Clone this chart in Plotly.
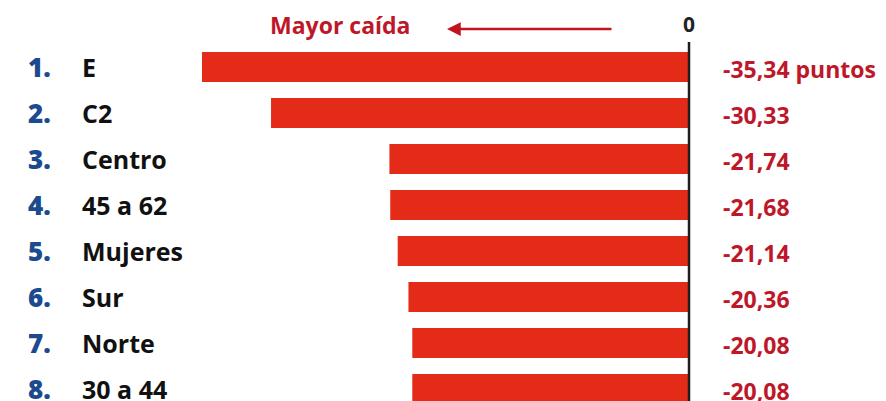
import plotly.graph_objects as go

ranks = ["1.", "2.", "3.", "4.", "5.", "6.", "7.", "8."]
categories = ["E", "C2", "Centro", "45 a 62", "Mujeres", "Sur", "Norte", "30 a 44"]
values = [-35.34, -30.33, -21.74, -21.68, -21.14, -20.36, -20.08, -20.08]
value_labels = ["-35,34 puntos", "-30,33", "-21,74", "-21,68", "-21,14", "-20,36", "-20,08", "-20,08"]

W, H = 886, 401
BAR = "#E32B17"
RED_TXT = "#BE1729"
BLUE = "#1B4A8E"
FONT = "Open Sans"

pos = list(range(len(categories)))

fig = go.Figure()
fig.add_trace(go.Bar(
    x=values, y=pos, orientation="h",
    marker=dict(color=BAR, line=dict(width=0)),
    width=0.65, hoverinfo="skip",
))

ann = []
for i in pos:
    ann.append(dict(x=26 / W, y=i, xref="paper", yref="y", text=ranks[i],
                    showarrow=False, xanchor="left", yanchor="middle",
                    font=dict(family=FONT, size=26, color=BLUE, weight=800)))
    ann.append(dict(x=80 / W, y=i, xref="paper", yref="y", text=categories[i],
                    showarrow=False, xanchor="left", yanchor="middle",
                    font=dict(family=FONT, size=25, color="#111111", weight=700)))
    ann.append(dict(x=721 / W, y=i, xref="paper", yref="y", text=value_labels[i],
                    showarrow=False, xanchor="left", yanchor="middle", yshift=-2,
                    font=dict(family=FONT, size=23, color=RED_TXT, weight=700)))

# header
ann.append(dict(x=268 / W, y=1 - 25 / H, xref="paper", yref="paper", yanchor="middle",
                text="Mayor caída", showarrow=False, xanchor="left",
                font=dict(family=FONT, size=23, color=RED_TXT, weight=700)))
ann.append(dict(x=0, y=1 - 24 / H, xref="x", yref="paper", text="0",
                showarrow=False, xanchor="center", yanchor="middle",
                font=dict(family=FONT, size=21, color="#222222", weight=700)))
ann.append(dict(x=447 / W, y=1 - 29 / H, ax=166, ay=0,
                xref="paper", yref="paper",
                text="", showarrow=True, arrowhead=2, arrowsize=1.1, arrowwidth=2.5,
                arrowcolor="#C0141E"))

shapes = [dict(type="line", xref="x", yref="paper", x0=0, x1=0, y0=0, y1=1 - 42 / H,
               line=dict(color="#1E1E1E", width=2.5))]

px_per_unit = 13.78
x0 = -689 / px_per_unit
x1 = x0 + W / px_per_unit
y_top = -67 / 46
y_bot = y_top + H / 46

fig.update_layout(
    width=W, height=H,
    margin=dict(l=0, r=0, t=0, b=0),
    paper_bgcolor="#FFFFFF", plot_bgcolor="#FFFFFF",
    showlegend=False,
    xaxis=dict(range=[x0, x1], visible=False, fixedrange=True),
    yaxis=dict(range=[y_bot, y_top], visible=False, fixedrange=True),
    annotations=ann, shapes=shapes,
)

fig.write_html("out.html", config={"displayModeBar": False},
               post_script="document.body.style.margin='0';document.body.style.overflow='hidden';")
